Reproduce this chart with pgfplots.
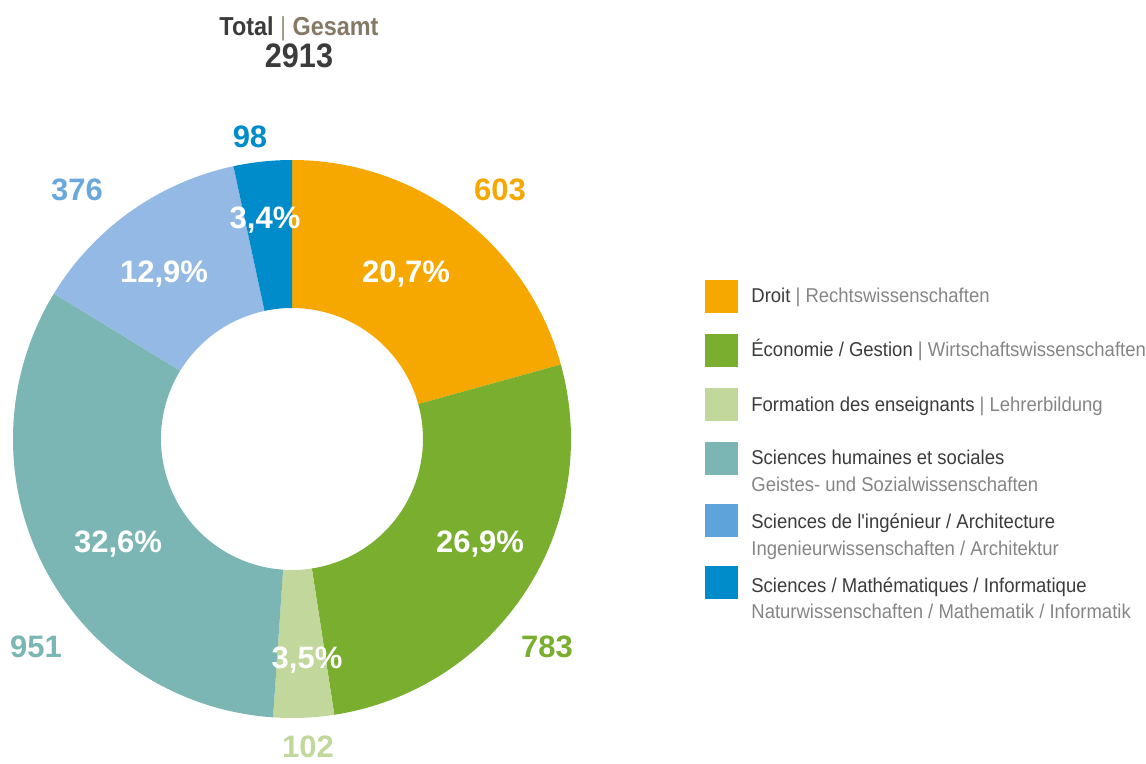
\documentclass[border=0pt]{standalone}
\usepackage{pgfplots}
\pgfplotsset{compat=1.18}
\usepackage{fontspec}
\setmainfont{Liberation Sans}[FakeStretch=0.925,Ligatures=TeXOff]
\newfontfamily\numfont{Liberation Sans}
\newfontfamily\titlefont{Liberation Sans}[FakeStretch=0.9]
\definecolor{cDroit}{HTML}{F7A800}
\definecolor{cEco}{HTML}{79AE2E}
\definecolor{cForm}{HTML}{C2D79B}
\definecolor{cSHS}{HTML}{7BB6B5}
\definecolor{cIng}{HTML}{93B9E4}
\definecolor{cIngL}{HTML}{5EA4DA}
\definecolor{cIngT}{HTML}{6AA8DC}
\definecolor{cSci}{HTML}{008BCB}
\definecolor{cDark}{HTML}{3B3B3B}
\definecolor{cGray}{HTML}{858585}
\definecolor{cTaupe}{HTML}{857864}
\definecolor{cPipe}{HTML}{A39787}
% sector: #1 = cumulative count before, #2 = count, #3 = colour
\newcommand{\sector}[3]{%
  \fill[#3] (axis cs:292,321) ++({90-#1/2913*360}:139.5pt)
    arc[start angle={90-#1/2913*360}, end angle={90-(#1+#2)/2913*360}, radius=139.5pt]
    -- ++({90-(#1+#2)/2913*360}:-74pt)
    arc[start angle={90-(#1+#2)/2913*360}, end angle={90-#1/2913*360}, radius=65.5pt] -- cycle;
}
\newcommand{\pct}{\numfont\fontsize{15.5}{18}\selectfont\bfseries}
\newcommand{\leg}{\fontsize{10}{12}\selectfont}
\begin{document}
\begin{tikzpicture}
\begin{axis}[x=0.5pt,y=0.5pt,xmin=0,xmax=1146,ymin=0,ymax=760,
  hide axis,clip=false,scale only axis]
\path (axis cs:0,0) rectangle (axis cs:1146,760);
% counts: 603, 783, 102, 951, 376, 98 (total 2913)
\sector{0}{603}{cDroit}
\sector{603}{783}{cEco}
\sector{1386}{102}{cForm}
\sector{1488}{951}{cSHS}
\sector{2439}{376}{cIng}
\sector{2815}{98}{cSci}
% percentages
\node[anchor=base,text=white,font=\pct] at (axis cs:406,477) {20,7\%};
\node[anchor=base,text=white,font=\pct] at (axis cs:480,208) {26,9\%};
\node[anchor=base,text=white,font=\pct] at (axis cs:307,92) {3,5\%};
\node[anchor=base,text=white,font=\pct] at (axis cs:118,208) {32,6\%};
\node[anchor=base,text=white,font=\pct] at (axis cs:164,477) {12,9\%};
\node[anchor=base,text=white,font=\pct] at (axis cs:265,531) {3,4\%};
% counts
\node[anchor=base,text=cDroit,font=\pct] at (axis cs:500,559) {603};
\node[anchor=base,text=cEco,font=\pct] at (axis cs:547,103) {783};
\node[anchor=base,text=cForm,font=\pct] at (axis cs:308,3) {102};
\node[anchor=base,text=cSHS,font=\pct] at (axis cs:36,103) {951};
\node[anchor=base,text=cIngT,font=\pct] at (axis cs:77,559) {376};
\node[anchor=base,text=cSci,font=\pct] at (axis cs:250,612) {98};
% title
\node[anchor=base,inner sep=0pt] at (axis cs:299,724) {\titlefont\fontsize{13}{15}\selectfont\bfseries\textcolor{cDark}{Total}\ \textcolor{cPipe}{\mdseries|}\ \textcolor{cTaupe}{Gesamt}};
\node[anchor=base,inner sep=0pt] at (axis cs:299,692) {\titlefont\fontsize{17}{20}\selectfont\bfseries\textcolor{cDark}{2913}};
% legend
\fill[cDroit] (axis cs:705,447) rectangle (axis cs:738,480);
\fill[cEco] (axis cs:705,393) rectangle (axis cs:738,426);
\fill[cForm] (axis cs:705,339) rectangle (axis cs:738,372);
\fill[cSHS] (axis cs:705,285) rectangle (axis cs:738,318);
\fill[cIngL] (axis cs:705,223) rectangle (axis cs:738,256);
\fill[cSci] (axis cs:705,161) rectangle (axis cs:738,194);
\node[anchor=base west,inner sep=0pt,font=\leg] at (axis cs:751,457) {\textcolor{cDark}{Droit} \textcolor{cGray}{| Rechtswissenschaften}};
\node[anchor=base west,inner sep=0pt,font=\leg] at (axis cs:751,403) {\textcolor{cDark}{Économie / Gestion} \textcolor{cGray}{| Wirtschaftswissenschaften}};
\node[anchor=base west,inner sep=0pt,font=\leg] at (axis cs:751,349) {\textcolor{cDark}{Formation des enseignants} \textcolor{cGray}{| Lehrerbildung}};
\node[anchor=base west,inner sep=0pt,font=\leg,text=cDark] at (axis cs:751,296) {Sciences humaines et sociales};
\node[anchor=base west,inner sep=0pt,font=\leg,text=cGray] at (axis cs:751,269) {Geistes- und Sozialwissenschaften};
\node[anchor=base west,inner sep=0pt,font=\leg,text=cDark] at (axis cs:751,232) {Sciences de l'ingénieur / Architecture};
\node[anchor=base west,inner sep=0pt,font=\leg,text=cGray] at (axis cs:751,205) {Ingenieurwissenschaften / Architektur};
\node[anchor=base west,inner sep=0pt,font=\leg,text=cDark] at (axis cs:751,168) {Sciences / Mathématiques / Informatique};
\node[anchor=base west,inner sep=0pt,font=\leg,text=cGray] at (axis cs:751,142) {Naturwissenschaften / Mathematik / Informatik};
\end{axis}
\end{tikzpicture}
\end{document}
